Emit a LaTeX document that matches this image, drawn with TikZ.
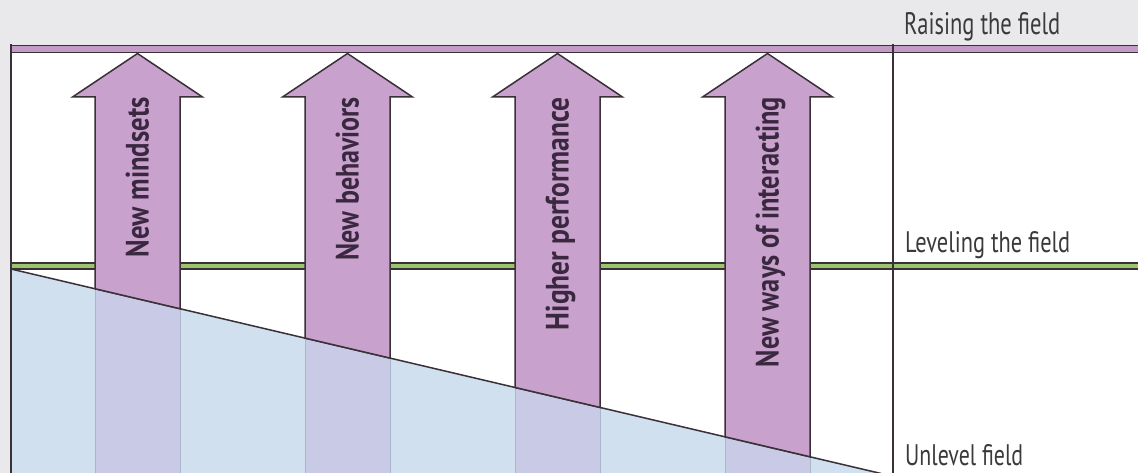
\documentclass[tikz,border=0pt]{standalone}
\usepackage{fontspec}
\setmainfont{PT Sans}
\usepackage{graphicx}
\definecolor{pagegray}{HTML}{E9E9EB}
\definecolor{framedark}{HTML}{3A3038}
\definecolor{bandpurple}{HTML}{C39BC6}
\definecolor{arrowpurple}{HTML}{C9A1CD}
\definecolor{levelgreen}{HTML}{9CC46A}
\definecolor{fieldblue}{HTML}{D0E0EE}
\definecolor{overlapblue}{HTML}{C8CAE6}
\definecolor{edgeblue}{HTML}{A9B6CD}
\definecolor{labeltext}{HTML}{3A3A3C}
\definecolor{arrowtext}{HTML}{3A2840}
\tikzset{
  frameline/.style={draw=framedark, line width=2pt},
  bandline/.style={draw=framedark, line width=1.6pt},
  slopeline/.style={draw=framedark, line width=1.5pt},
  bigarrow/.style={fill=arrowpurple, draw=framedark, line width=1.5pt, line join=miter},
  shaftshade/.style={fill=overlapblue},
  shaftedge/.style={draw=edgeblue, line width=0.8pt},
  sidelabel/.style={anchor=base west, inner sep=0pt, text=labeltext},
  arrowlabel/.style={anchor=base east, inner sep=0pt, rotate=90, text=arrowtext, font=\bfseries}
}
\begin{document}
\begin{tikzpicture}[x=1pt, y=-1pt]
  \useasboundingbox (0,0) rectangle (1138,473);
  % page and field area
  \fill[pagegray] (0,0) rectangle (1138,473);
  \fill[white] (11,45) rectangle (1138,473);
  % the tilted (unlevel) field
  \fill[fieldblue] (11,269) -- (881,473) -- (11,473) -- cycle;
  % arrow shafts seen through the field
  \foreach \cx in {137.5,347.5,557.5,767.5} {
    \pgfmathsetmacro\xl{\cx-42.5}
    \pgfmathsetmacro\xr{\cx+42.5}
    \pgfmathsetmacro\yl{269+0.235*(\xl-11)}
    \pgfmathsetmacro\yr{269+0.235*(\xr-11)}
    \fill[shaftshade] (\xl,\yl) -- (\xr,\yr) -- (\xr,473) -- (\xl,473) -- cycle;
    \draw[shaftedge] (\xl,\yl) -- (\xl,473) (\xr,\yr) -- (\xr,473);
  }
  % raised field band
  \fill[bandpurple] (11,45.5) rectangle (1138,52.5);
  \draw[bandline] (11,45.5) -- (1138,45.5) (11,52.5) -- (1138,52.5);
  % level field band
  \fill[levelgreen] (11,263) rectangle (1138,269);
  \draw[bandline] (11,263) -- (1138,263) (11,269) -- (1138,269);
  % frame verticals
  \draw[frameline] (11,44.5) -- (11,473);
  \draw[frameline] (893,44.5) -- (893,473);
  % slope of the unlevel field
  \draw[slopeline] (11,269) -- (881,473.5);
  % upward arrows with their labels
  \foreach \cx/\nm/\txt/\len in {137.5/mindsets/New mindsets/160,
                                  347.5/behaviors/New behaviors/163,
                                  557.5/performance/Higher performance/233,
                                  767.5/interacting/New ways of interacting/270} {
    \pgfmathsetmacro\xl{\cx-42.5}
    \pgfmathsetmacro\xr{\cx+42.5}
    \pgfmathsetmacro\hl{\cx-65}
    \pgfmathsetmacro\hr{\cx+65}
    \pgfmathsetmacro\yl{269+0.235*(\xl-11)}
    \pgfmathsetmacro\yr{269+0.235*(\xr-11)}
    \draw[bigarrow] (\xl,\yl) -- (\xl,97) -- (\hl,97) -- (\cx,53.5) -- (\hr,97)
      -- (\xr,97) -- (\xr,\yr) -- cycle;
    \node[arrowlabel] (\nm) at (\cx+11,97) {\resizebox{\len pt}{23pt}{\txt}};
  }
  % side labels
  \node[sidelabel] (raising) at (904,35) {\resizebox{156pt}{22pt}{Raising the field}};
  \node[sidelabel] (leveling) at (905,252) {\resizebox{165pt}{21pt}{Leveling the field}};
  \node[sidelabel] (unlevel) at (905,465) {\resizebox{118pt}{21pt}{Unlevel field}};
\end{tikzpicture}
\end{document}
